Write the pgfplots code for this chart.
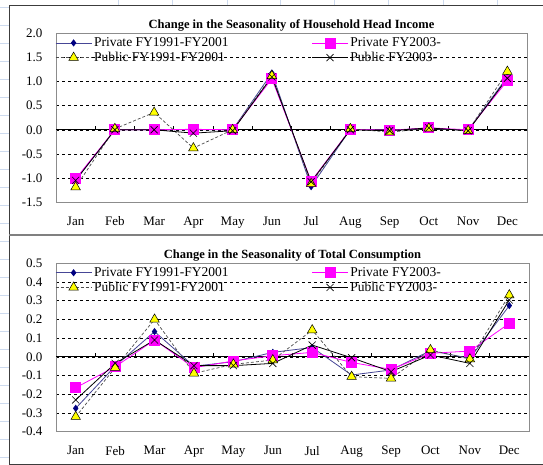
\documentclass[border=0pt]{standalone}
\usepackage{fontspec}
\setmainfont{Liberation Serif}
\usepackage{pgfplots}
\pgfplotsset{compat=1.18}
\definecolor{navyc}{RGB}{0,0,128}
\definecolor{navyl}{RGB}{70,70,150}
\definecolor{mag}{RGB}{255,0,255}
\definecolor{yel}{RGB}{255,255,0}
\definecolor{bord}{RGB}{140,140,140}
\definecolor{sheet}{RGB}{205,218,238}
\definecolor{frame}{RGB}{60,60,60}

\pgfplotsset{
 chartstyle/.style={
  scale only axis, xmin=-0.5, xmax=11.5,
  xtick={0,...,11}, xticklabels={Jan,Feb,Mar,Apr,May,Jun,Jul,Aug,Sep,Oct,Nov,Dec},
  xtick style={draw=none}, ytick style={draw=none},
  xticklabel style={font=\fontsize{13}{15}\selectfont, yshift=-11pt},
  yticklabel style={font=\fontsize{13}{15}\selectfont, xshift=-10pt, /pgf/number format/.cd, fixed, fixed zerofill, precision=1},
  /pgf/number format/assume math mode=true,
  axis line style={bord, line width=0.8pt},
  ymajorgrids, grid style={black, dashed, line width=0.5pt},
  title style={font=\bfseries\fontsize{12.5}{14}\selectfont, yshift=-7pt},
  legend columns=2,
  legend style={draw=none, fill=none, at={(0,1)}, anchor=north west, xshift=-1pt, yshift=-2pt,
    font=\fontsize{13.5}{14}\selectfont, inner sep=0pt, row sep=0pt,
    /tikz/every even column/.append style={column sep=81pt}},
  legend cell align=left,
  legend image code/.code={\draw[mark repeat=2,mark phase=2] plot coordinates {(0pt,0pt)(18pt,0pt)(36pt,0pt)};},
 },
 s1/.style={navyl, line width=0.8pt, mark=diamond*, mark size=3pt, mark options={solid, navyc, fill=navyc}},
 s2/.style={mag, line width=0.8pt, mark=square*, mark size=5pt, mark options={solid, mag, fill=mag}},
 s3/.style={black!70, line width=0.7pt, densely dashed, mark=triangle*, mark size=5.5pt, mark options={solid, black, fill=yel, line width=0.5pt}},
 s4/.style={black, line width=0.8pt, mark=x, mark size=5pt, mark options={solid, black, line width=0.6pt}},
}

\pgfplotstableread{
m   a      b      c      d
0  -1.05  -1.02  -1.19  -1.05
1   0.00   0.00   0.02   0.00
2   0.00   0.00   0.36   0.00
3   0.00   0.01  -0.38  -0.07
4   0.00   0.00   0.00  -0.02
5   1.18   1.06   1.12   1.10
6  -1.18  -1.07  -1.12  -1.08
7   0.01   0.01   0.02   0.00
8  -0.01  -0.01  -0.05  -0.02
9   0.03   0.04   0.03   0.04
10 -0.01   0.00  -0.02  -0.02
11  1.10   1.02   1.21   1.07
}\income

\pgfplotstableread{
m   a       b       c       d
0  -0.275  -0.165  -0.320  -0.230
1  -0.050  -0.053  -0.058  -0.035
2   0.135   0.090   0.200   0.090
3  -0.050  -0.058  -0.088  -0.047
4  -0.026  -0.022  -0.040  -0.047
5   0.024   0.006  -0.017  -0.035
6   0.050   0.024   0.143   0.063
7  -0.097  -0.030  -0.106  -0.005
8  -0.070  -0.067  -0.115  -0.079
9   0.033   0.019   0.037   0.010
10 -0.008   0.031  -0.012  -0.035
11  0.274   0.179   0.330   0.304
}\consum

\begin{document}
\begin{tikzpicture}
\path[use as bounding box, fill=white] (0pt,0pt) rectangle (543pt,465pt);
% spreadsheet background strips
\foreach \yy in {8,26,44,62,80,98,116,134,152,170,188,206,224,242,260,278,296,314,332,350,368,386,404,422,440,458}
  \draw[sheet, line width=0.6pt] (0pt,\yy pt) -- (9pt,\yy pt);
\foreach \xx in {118,172,227,280,334,388,443,497}
  \draw[sheet, line width=0.6pt] (\xx pt,465pt) -- (\xx pt,460pt);
% frames
\draw[frame, line width=0.9pt] (543pt,460pt) -- (9pt,460pt) -- (9pt,0pt);
\draw[gray, line width=1.6pt] (9pt,230pt) -- (543pt,230pt);
\draw[frame, line width=0.8pt] (9pt,0.5pt) -- (543pt,0.5pt);

\begin{axis}[chartstyle, at={(56pt,263pt)}, anchor=south west, width=471pt, height=168.5pt,
  ymin=-1.5, ymax=2.0, ytick={-1.5,-1,...,2},
  title={Change in the Seasonality of Household Head Income}]
  \draw[black, line width=0.8pt] (axis cs:-0.5,0) -- (axis cs:11.5,0);
  \pgfplotsinvokeforeach{0.5,1.5,2.5,3.5,4.5,5.5,6.5,7.5,8.5,9.5,10.5}{\draw[black, line width=0.6pt] (axis cs:#1,0) -- ++(0pt,3.5pt);}
  \addplot[s1] table[x=m,y=a]{\income};
  \addplot[s2] table[x=m,y=b]{\income};
  \addplot[s3] table[x=m,y=c]{\income};
  \addplot[s4] table[x=m,y=d]{\income};
  \legend{Private FY1991-FY2001, Private FY2003-, Public FY1991-FY2001, Public FY2003-}
\end{axis}

\begin{axis}[chartstyle, at={(56pt,33.3pt)}, anchor=south west, width=473pt, height=168.4pt,
  ymin=-0.4, ymax=0.5, ytick={-0.4,-0.3,...,0.5},
  title={Change in the Seasonality of Total Consumption}]
  \draw[black, line width=0.8pt] (axis cs:-0.5,0) -- (axis cs:11.5,0);
  \pgfplotsinvokeforeach{0.5,1.5,2.5,3.5,4.5,5.5,6.5,7.5,8.5,9.5,10.5}{\draw[black, line width=0.6pt] (axis cs:#1,0) -- ++(0pt,3.5pt);}
  \addplot[s1] table[x=m,y=a]{\consum};
  \addplot[s2] table[x=m,y=b]{\consum};
  \addplot[s3] table[x=m,y=c]{\consum};
  \addplot[s4] table[x=m,y=d]{\consum};
  \legend{Private FY1991-FY2001, Private FY2003-, Public FY1991-FY2001, Public FY2003-}
\end{axis}
\end{tikzpicture}
\end{document}
